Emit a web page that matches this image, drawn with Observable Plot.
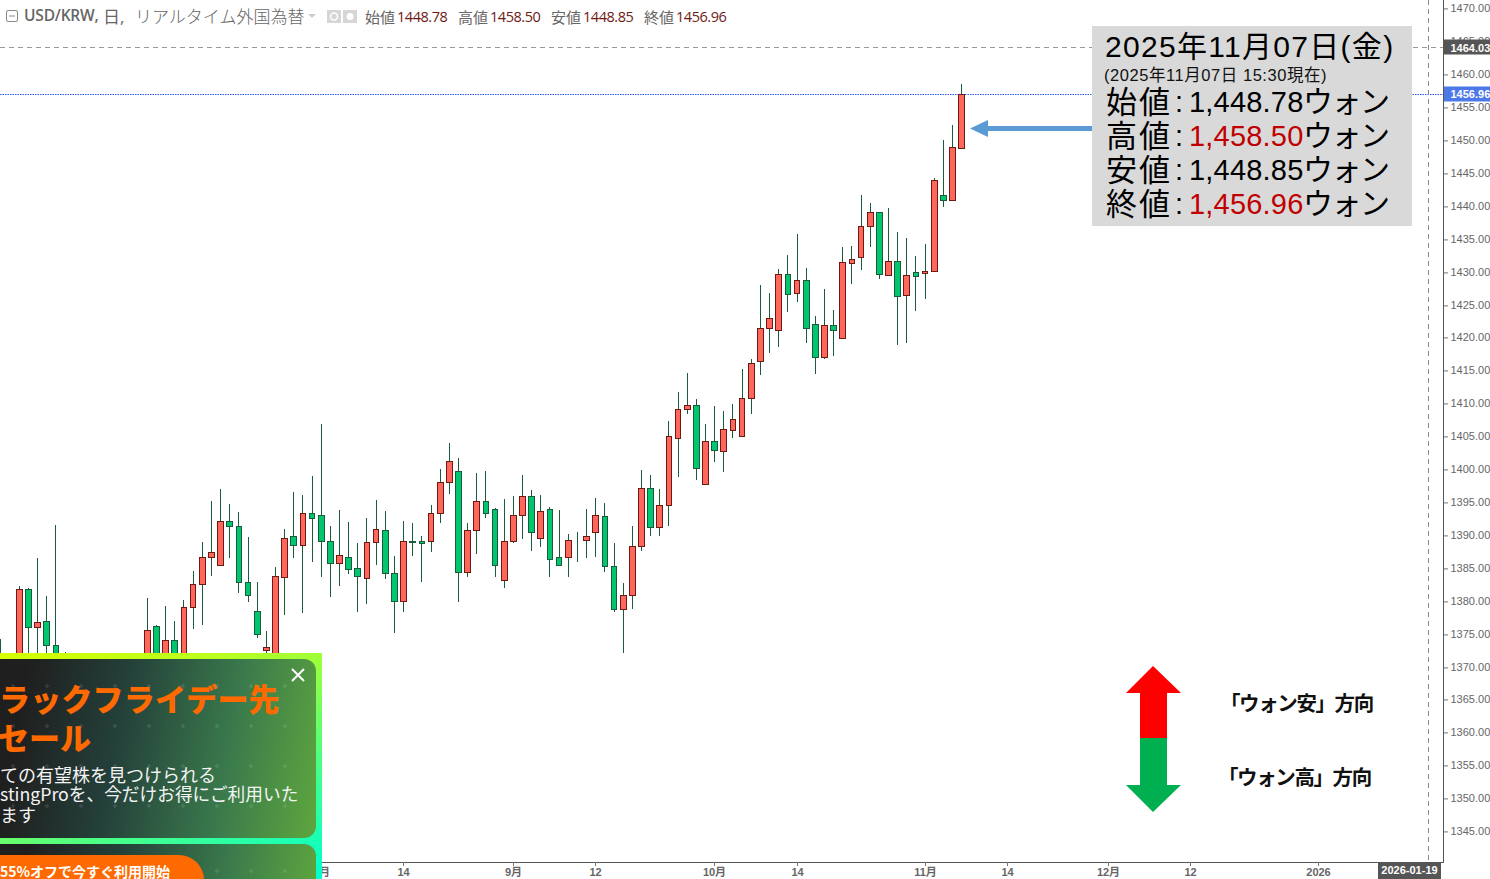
<!DOCTYPE html>
<html lang="ja"><head><meta charset="utf-8">
<style>
html,body{margin:0;padding:0;background:#fff;overflow:hidden}
#stage{position:relative;width:1490px;height:879px;overflow:hidden;font-family:"Liberation Sans","Noto Sans CJK JP",sans-serif}
#stage svg{display:block}
.t{position:absolute;white-space:nowrap;line-height:1;transform:translateY(-50%)}
.over{position:absolute;left:0;top:0;pointer-events:none}
#box{position:absolute;left:1092px;top:26px;width:320px;height:200px;background:#d9d9d9}
#ad{position:absolute;left:0;top:653px;width:322px;height:226px;overflow:hidden;
 background:linear-gradient(160deg,#d8ff00 0%,#b8ff20 25%,#40ff90 70%,#00ffd0 100%)}
.panel{position:absolute;left:-14px;width:330px;border-radius:12px;
 background-image:radial-gradient(circle,rgba(255,255,255,.10) 1.5px,transparent 2px),linear-gradient(100deg,#1f1f1f 12%,#24403a 40%,#3a7a4c 72%,#5ea63e 100%);
 background-size:34px 40px,100% 100%;background-position:10px 7px,0 0}
</style>
<script src="https://cdn.jsdelivr.net/npm/d3@7"></script>
<script src="https://cdn.jsdelivr.net/npm/@observablehq/plot@0.6"></script>
</head><body><div id="stage"></div>
<script>
// Bar position counted in trading days relative to 2025-11-07 (bar 0)
const bars = [-105,-103,-102,-101,-100,-99,-98, ...d3.range(-89, 1)];
const opens = [1371.0,1369.5,1381.8,1376.0,1376.9,1373.2,1370.2,
 1369.5,1376.1,1368.7,1374.1,1369.5,1379.1,1382.5,1386.6,1385.4,1392.1,1391.3,1382.8,1378.4,1372.5,1369.5,1383.6,1389.9,1388.4,1393.3,1393.0,
 1389.0,1385.7,1386.6,1384.9,1383.4,1388.9,1390.7,1384.2,1379.9,1389.0,1389.0,1389.0,1393.3,1398.0,1399.7,1384.3,1390.7,1395.1,1394.0,1383.1,
 1389.0,1393.1,1395.9,1389.6,1394.0,1386.6,1386.6,1389.25,1389.3,1390.5,1392.8,1385.2,1378.8,1380.8,1388.3,1397.2,1391.2,1394.5,1404.7,1409.1,
 1409.7,1397.7,1404.2,1402.7,1405.9,1405.1,1410.8,1416.5,1421.5,1421.1,1429.6,1426.7,1428.8,1422.0,1417.0,1421.9,1419.9,1431.3,1432.2,1436.9,
 1439.0,1429.5,1431.6,1426.4,1429.9,1429.8,1430.1,1441.6,1440.9,1448.78];
const highs = [1374.2,1382.2,1381.9,1386.5,1380.7,1391.5,1372.2,
 1380.4,1376.3,1379.2,1376.9,1380.1,1384.5,1388.9,1395.2,1397.0,1394.7,1393.5,1389.7,1382.8,1375.4,1385.1,1390.9,1396.5,1396.1,1398.9,1406.9,
 1391.3,1393.8,1392.0,1388.8,1392.6,1395.3,1393.6,1386.8,1392.1,1391.8,1389.8,1394.5,1400.0,1404.0,1401.7,1391.8,1399.4,1399.7,1394.1,1395.5,
 1395.9,1399.1,1396.8,1396.1,1394.2,1393.8,1390.1,1390.4,1393.9,1395.6,1394.8,1388.8,1382.7,1391.3,1399.9,1399.1,1397.0,1407.3,1411.7,1414.6,
 1410.7,1406.9,1409.6,1408.8,1409.9,1415.2,1416.7,1428.0,1426.8,1430.4,1432.5,1435.7,1430.6,1423.3,1427.4,1424.2,1433.8,1433.9,1441.7,1440.4,
 1439.0,1439.7,1436.0,1435.1,1432.4,1434.2,1444.2,1450.0,1452.3,1458.5];
const lows = [1367.9,1367.9,1370.2,1370.2,1370.2,1367.9,1367.2,
 1367.2,1367.9,1366.4,1367.9,1367.9,1375.7,1376.3,1383.8,1385.2,1386.5,1381.1,1379.8,1374.4,1372.1,1367.9,1377.9,1386.5,1378.2,1385.9,1383.6,
 1380.6,1382.3,1384.0,1378.3,1379.5,1385.5,1383.3,1375.1,1378.3,1386.8,1382.9,1387.4,1391.8,1396.2,1379.8,1383.6,1387.1,1392.6,1383.6,1382.0,
 1388.8,1389.4,1387.6,1388.2,1383.6,1385.2,1383.6,1385.9,1386.5,1386.7,1384.4,1378.3,1372.1,1378.8,1387.6,1389.9,1389.9,1391.4,1398.8,1408.4,
 1398.4,1397.7,1401.1,1399.6,1404.8,1405.1,1408.3,1414.3,1417.7,1418.5,1423.8,1425.4,1419.1,1414.5,1416.7,1417.2,1419.9,1428.2,1430.2,1433.7,
 1428.9,1429.5,1418.8,1419.2,1424.1,1425.9,1430.1,1439.9,1440.9,1448.78];
const closes = [1369.5,1381.8,1376.0,1376.7,1373.2,1370.2,1368.7,
 1375.6,1369.5,1374.1,1369.5,1379.1,1382.6,1386.6,1387.4,1392.1,1391.3,1382.8,1380.8,1374.9,1372.9,1383.7,1389.6,1388.4,1393.3,1392.5,1389.0,
 1385.7,1386.9,1384.8,1383.7,1388.9,1390.9,1384.2,1379.9,1389.0,1388.95,1388.8,1393.3,1398.0,1401.2,1384.3,1390.7,1395.1,1393.3,1385.5,1389.0,
 1393.1,1395.9,1390.5,1393.6,1386.4,1385.4,1389.3,1389.3,1389.8,1393.1,1385.2,1378.8,1380.8,1388.3,1397.2,1391.2,1394.5,1405.0,1409.2,1409.7,
 1400.1,1404.2,1402.9,1406.1,1407.6,1410.8,1416.1,1421.5,1422.9,1429.6,1426.6,1428.8,1421.4,1417.0,1421.9,1421.2,1431.4,1432.0,1436.9,1439.0,
 1429.6,1431.6,1426.3,1429.5,1429.3,1430.1,1443.9,1440.9,1448.9,1456.96];

// Time-axis ticks
const tickBars = [-70,-61,-49,-40,-27,-18,-4,5,16,25,39];
const tickLabels = ["8月","14","9月","12","10月","14","11月","14","12月","12","2026"];
// Price-axis ticks
const priceTicks = d3.range(1345, 1471, 5);
// Last price and crosshair tags
const tagValues = [1464.03, 1456.96];
const tagLabels = ["1464.03", "1456.96"];
const tagFills = ["#555555", "#4d78e8"];
const crossBar = 51;
const crossLabel = "2026-01-19";

const candles = bars.map((bar, i) => ({bar, open: opens[i], high: highs[i], low: lows[i], close: closes[i], up: closes[i] >= opens[i]}));
const tags = tagValues.map((value, i) => ({value, label: tagLabels[i], fill: tagFills[i]}));
const half = 0.31;

const chart = Plot.plot({
  width: 1490, height: 879,
  marginLeft: 0, marginRight: 47, marginTop: 0, marginBottom: 17,
  style: {fontFamily: '"Liberation Sans","Noto Sans CJK JP",sans-serif', background: "#fff", overflow: "hidden"},
  x: {domain: [-105.05, 52.65], round: true},
  y: {domain: [1340.29, 1471.29], round: true},
  marks: [
    Plot.ruleY([tagValues[0]], {stroke: "#999", strokeDasharray: "5,4", dy: -1}),
    Plot.ruleY([tagValues[1]], {stroke: "#2f5fe8", strokeDasharray: "1.5,1"}),
    Plot.ruleX([crossBar], {stroke: "#888", strokeDasharray: "5,4"}),
    Plot.ruleX(candles, {x: "bar", y1: "low", y2: "high", stroke: "#1b5a3c"}),
    Plot.rect(candles, {
      x1: d => d.bar - half, x2: d => d.bar + half, y1: "open", y2: "close",
      fill: d => d.up ? "#ff675c" : "#00c76e", stroke: d => d.up ? "#6b1a14" : "#1b5a3c", dx: 0.5, dy: 0.5
    }),
    Plot.frame({anchor: "right", stroke: "#555"}),
    Plot.frame({anchor: "bottom", stroke: "#555"}),
    Plot.axisY({anchor: "right", ticks: priceTicks, tickFormat: d3.format(".2f"), label: null, tickSize: 4, tickPadding: 3, fontSize: 11, color: "#666", stroke: "#777", dy: 0.4}),
    Plot.axisX({ticks: tickBars, tickFormat: d => tickLabels[tickBars.indexOf(d)], label: null, tickSize: 4, tickPadding: 2, fontSize: 11, color: "#666", stroke: "#777", fontWeight: 700}),
    Plot.rect(tags, {y1: d => d.value - 1.15, y2: d => d.value + 1.15, fill: "fill", insetLeft: 1444, insetRight: -47, dy: -0.5}),
    Plot.text(tags, {y: "value", text: "label", frameAnchor: "right", dx: 7, dy: 0, textAnchor: "start", fill: "#fff", fontWeight: 700, fontSize: 11}),
    Plot.rect([crossBar], {x1: d => d - 5.5, x2: d => d + 1.4, fill: "#555", insetTop: 862, insetBottom: -17}),
    Plot.text([crossLabel], {x: crossBar, dx: -19, frameAnchor: "bottom", dy: 11, text: d => d, fill: "#fff", fontWeight: 700, fontSize: 11})
  ]
});

const stage = document.getElementById("stage");
stage.append(chart);

function put(parent, text, x, y, css) {
  const el = document.createElement("div");
  el.className = "t";
  el.textContent = text;
  el.style.cssText = `left:${x}px;top:${y}px;${css || ""}`;
  parent.append(el);
  return el;
}

// Header legend
const head = 'font-family:"Open Sans","Noto Sans CJK JP",sans-serif;';
put(stage, "USD/KRW,", 24, 16, head + "font-size:15.5px;color:#666;font-weight:600;letter-spacing:-.2px");
put(stage, "日,", 103, 16, head + "font-size:17px;color:#666");
put(stage, "リアルタイム外国為替", 135, 16, head + "font-size:17px;color:#666;font-weight:300");
[["始値", 365, "1448.78", 397], ["高値", 458, "1458.50", 490], ["安値", 551, "1448.85", 583], ["終値", 644, "1456.96", 676]].forEach(([n, a, v, b]) => {
  put(stage, n, a, 17, head + "font-size:15px;color:#666");
  put(stage, v, b, 17, head + "font-size:14.5px;color:#6e1a14;letter-spacing:-.45px");
});

// Annotation box
const box = document.createElement("div");
box.id = "box";
stage.append(box);
put(stage, "2025年11月07日(金)", 1105, 47, "font-size:30px;color:#000;letter-spacing:1.3px");
put(stage, "(2025年11月07日 15:30現在)", 1104, 75, "font-size:16.5px;color:#111;letter-spacing:.55px");
[["始値", "1,448.78", "#000", 102], ["高値", "1,458.50", "#c00000", 136], ["安値", "1,448.85", "#000", 170], ["終値", "1,456.96", "#c00000", 204]].forEach(([n, v, c, y]) => {
  put(stage, n, 1106, y, "font-size:31px;color:#000;letter-spacing:2px");
  put(stage, ":", 1175, y, "font-size:29px;color:#000");
  put(stage, v, 1189, y, `font-size:29px;color:${c};letter-spacing:.2px`);
  put(stage, "ウォン", 1303, y, "font-size:30px;color:#000;letter-spacing:-1.5px");
});

// Direction labels
const dir = 'font-family:"Noto Sans CJK JP",sans-serif;font-size:20.5px;font-weight:700;color:#111;letter-spacing:-1.4px;';
put(stage, "「ウォン安」方向", 1220, 702, dir);
put(stage, "「ウォン高」方向", 1218, 776, dir);

// Arrows and legend glyphs
stage.insertAdjacentHTML("beforeend", `<svg class="over" width="1490" height="879">
 <polygon points="970,128.5 988,120 988,126 1092,126 1092,131 988,131 988,137" fill="#5b9bd5"/>
 <polygon points="1153,666 1181,693 1167,693 1167,738 1140,738 1140,693 1126,693" fill="#ff0000"/>
 <polygon points="1140,738 1167,738 1167,785 1181,785 1153,812 1126,785 1140,785" fill="#00b050"/>
 <rect x="6.5" y="10.5" width="11" height="11" rx="1.5" fill="none" stroke="#888"/>
 <line x1="9" x2="15" y1="16" y2="16" stroke="#888"/>
 <polygon points="308,14 316,14 312,18" fill="#ccc"/>
 <rect x="327" y="10" width="14" height="13" fill="#d6d6d6"/>
 <circle cx="334" cy="16.5" r="3.5" fill="none" stroke="#fff" stroke-width="1.5"/>
 <rect x="343" y="10" width="14" height="13" fill="#d6d6d6"/>
 <circle cx="350" cy="16.5" r="3.5" fill="#fff"/>
</svg>`);

// Promotional overlay
const ad = document.createElement("div");
ad.id = "ad";
stage.append(ad);
const p1 = document.createElement("div"); p1.className = "panel"; p1.style.cssText = "top:6px;height:179px"; ad.append(p1);
const p2 = document.createElement("div"); p2.className = "panel"; p2.style.cssText = "top:191px;height:60px"; ad.append(p2);
ad.insertAdjacentHTML("beforeend", `<div style="position:absolute;left:-40px;top:202px;width:244px;height:50px;border-radius:25px;background:#ff6a00"></div>
 <svg style="position:absolute;left:291px;top:15px" width="14" height="14"><path d="M1 1L13 13M13 1L1 13" stroke="#fff" stroke-width="2"/></svg>`);
const jp = 'font-family:"Noto Sans CJK JP",sans-serif;';
put(ad, "ラックフライデー先", -1, 44, jp + "font-size:31px;font-weight:900;color:#ff6a00;letter-spacing:.2px");
put(ad, "セール", -2, 83, jp + "font-size:31px;font-weight:900;color:#ff6a00");
put(ad, "ての有望株を見つけられる", 0, 121, jp + "font-size:18px;color:#f4f4f4");
put(ad, "stingProを、今だけお得にご利用いた", 0, 141, jp + "font-size:17.7px;color:#f4f4f4");
put(ad, "ます", 0, 161, jp + "font-size:18px;color:#f4f4f4");
put(ad, "55%オフで今すぐ利用開始", 0, 218, jp + "font-size:14px;font-weight:700;color:#fff");
</script>
</body></html>
